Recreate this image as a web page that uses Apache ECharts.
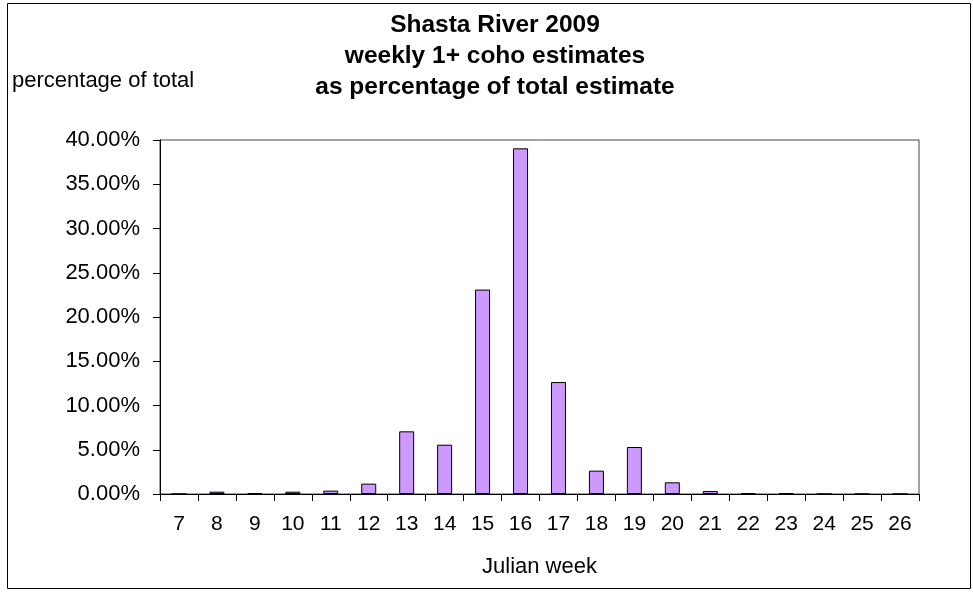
<!DOCTYPE html>
<html>
<head>
<meta charset="utf-8">
<script src="https://cdn.jsdelivr.net/npm/echarts@6/dist/echarts.min.js"></script>
<style>
  html, body { margin: 0; padding: 0; background: #fff; }
  #chart { width: 973px; height: 592px; }
</style>
</head>
<body>
<div id="chart"></div>
<script>
// Julian weeks on the category axis
const weeks = ['7', '8', '9', '10', '11', '12', '13', '14', '15', '16',
               '17', '18', '19', '20', '21', '22', '23', '24', '25', '26'];
// Weekly 1+ coho estimate, percent of the season total
const pctOfTotal = [0, 0.26, 0.10, 0.26, 0.38, 1.17, 7.08, 5.57, 23.1, 39.06,
                    12.65, 2.64, 5.31, 1.32, 0.34, 0.11, 0.11, 0, 0, 0];
// Value axis range and step (percent)
const yMin = 0, yMax = 40, yStep = 5;

const titleLines = ['Shasta River 2009', 'weekly 1+ coho estimates', 'as percentage of total estimate'];
const yAxisTitle = 'percentage of total';
const xAxisTitle = 'Julian week';

const FONT = '"Liberation Sans", Arial, Helvetica, sans-serif';

const chart = echarts.init(document.getElementById('chart'), null, { renderer: 'canvas' });

chart.setOption({
  backgroundColor: '#ffffff',
  animation: false,
  title: {
    text: titleLines.join('\n'),
    left: 495,
    top: 10,
    textAlign: 'center',
    padding: 0,
    textStyle: {
      fontFamily: FONT,
      fontWeight: 'bold',
      fontSize: 24.5,
      lineHeight: 31,
      color: '#000'
    }
  },
  graphic: [
    {
      type: 'rect',
      shape: { x: 7.5, y: 3.5, width: 963, height: 585 },
      style: { fill: 'none', stroke: '#000', lineWidth: 1 },
      silent: true
    },
    {
      type: 'text',
      left: 12,
      top: 70,
      style: {
        text: yAxisTitle,
        font: '22px ' + FONT,
        fill: '#000'
      }
    }
  ],
  grid: {
    left: 160,
    right: 54,
    top: 140,
    bottom: 98,
    show: true,
    borderColor: '#444',
    borderWidth: 1,
    backgroundColor: 'transparent'
  },
  xAxis: {
    type: 'category',
    data: weeks,
    boundaryGap: true,
    name: xAxisTitle,
    nameLocation: 'middle',
    nameGap: 62,
    nameTextStyle: { fontFamily: FONT, fontSize: 22, color: '#000', verticalAlign: 'top' },
    axisLine: { show: true, lineStyle: { color: '#000', width: 1 } },
    axisTick: { show: true, interval: 0, length: 7, inside: false, lineStyle: { color: '#000' } },
    axisLabel: { interval: 0, margin: 20, fontFamily: FONT, fontSize: 21, color: '#000' },
    splitLine: { show: false }
  },
  yAxis: {
    type: 'value',
    min: yMin,
    max: yMax,
    interval: yStep,
    axisLine: { show: true, lineStyle: { color: '#000', width: 1 } },
    axisTick: { show: true, length: 7, inside: false, lineStyle: { color: '#000' } },
    axisLabel: {
      margin: 20,
      fontFamily: FONT,
      fontSize: 22,
      color: '#000',
      formatter: v => v.toFixed(2) + '%'
    },
    splitLine: { show: false }
  },
  series: [{
    type: 'bar',
    data: pctOfTotal,
    barWidth: 15,
    itemStyle: {
      color: '#CC99FF',
      borderColor: '#000',
      borderWidth: 1
    }
  }]
});
</script>
</body>
</html>
